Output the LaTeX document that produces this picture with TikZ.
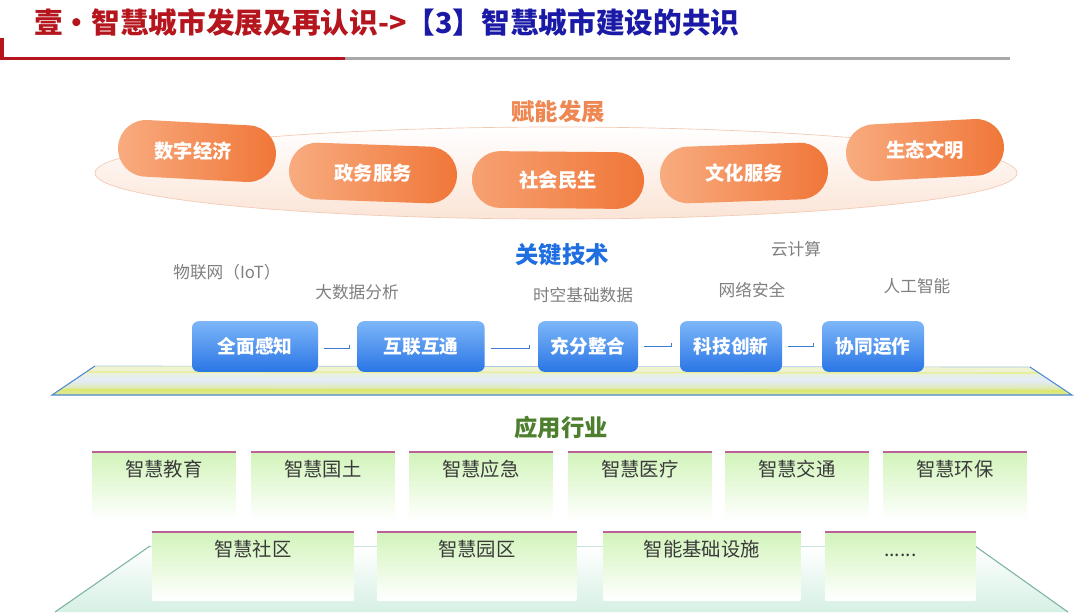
\documentclass[tikz,border=0pt]{standalone}
\usepackage{fontspec}
\setmainfont{Noto Sans CJK SC}
\usetikzlibrary{calc}
\definecolor{tred}{HTML}{B5161E}
\definecolor{tblue}{HTML}{1A1AA6}
\definecolor{lgrey}{HTML}{A8A8A8}
\definecolor{orA}{HTML}{F8AC80}
\definecolor{orB}{HTML}{F07638}
\definecolor{orT}{HTML}{EE8752}
\definecolor{ellB}{HTML}{FBE4D6}
\definecolor{ellD}{HTML}{F2C9B3}
\definecolor{blA}{HTML}{7DB6F8}
\definecolor{blB}{HTML}{2A76E6}
\definecolor{blT}{HTML}{1F6FE0}
\definecolor{grT}{HTML}{4D7F2F}
\definecolor{gtxt}{HTML}{7F7F7F}
\definecolor{gbtxt}{HTML}{3A3A3A}
\definecolor{gbA}{HTML}{D2F4BA}
\definecolor{magline}{HTML}{BE6098}
\definecolor{connc}{HTML}{3C7BD6}
\definecolor{platY}{HTML}{DCE872}
\definecolor{platB}{HTML}{E2ECF8}
\definecolor{platE}{HTML}{4F88D6}
\definecolor{mint}{HTML}{D6F0E4}
\definecolor{mintE}{HTML}{7DB3A4}
\begin{document}
\begin{tikzpicture}[x=0.75pt,y=-0.75pt,
  pill/.style={rectangle, rounded corners=21pt, left color=orA, right color=orB,
    minimum height=42.5pt},
  pilltext/.style={text=white, font=\bfseries\fontsize{14.5}{16}\selectfont},
  bbox/.style={rectangle, rounded corners=5pt, top color=blA, bottom color=blB,
    text=white, font=\bfseries\fontsize{14}{16}\selectfont, minimum height=38pt},
  gbox/.style={rectangle, anchor=north west, top color=gbA, bottom color=white,
    inner ysep=0pt, text height=18.5pt, text depth=32.5pt, text=gbtxt,
    font=\fontsize{14.5}{16}\selectfont},
  gtop/.style={draw=magline, line width=1.3pt},
  sechead/.style={font=\bfseries\fontsize{17.5}{20}\selectfont},
  glabel/.style={text=gtxt, font=\fontsize{12.5}{14}\selectfont},
  conn/.style={draw=connc, line width=0.8pt}
]
\useasboundingbox (0,0) rectangle (1074,612);
\fill[white] (0,0) rectangle (1074,612);

% ---------- header ----------
\fill[tred] (0,38) rectangle (4,60);
\fill[tred] (0,57) rectangle (345,60);
\fill[lgrey] (345,57) rectangle (1010,60);
\node[anchor=west, inner sep=0pt, font=\bfseries\fontsize{21.5}{24}\selectfont] (title) at (34,23)
  {\textcolor{tred}{壹·智慧城市发展及再认识->}\textcolor{tblue}{【3】智慧城市建设的共识}};

% ---------- 赋能发展 ----------
\node[sechead, text=orT] (h1) at (558,112) {赋能发展};
\path[top color=white, bottom color=ellB, draw=ellD, line width=0.5pt]
  (556,173) ellipse [x radius=461, y radius=46];
\node[pill, minimum width=118.5pt, rotate=-3] (p1) at (197,151) {};
\node[pill, minimum width=126pt, rotate=-2] (p2) at (373,173) {};
\node[pill, minimum width=129pt, left color=orA!80!orB, rotate=-0.5] (p3) at (558,180) {};
\node[pill, minimum width=126pt, rotate=2] (p4) at (744,173) {};
\node[pill, minimum width=118.5pt, rotate=3] (p5) at (925,150) {};
\node[pilltext] (p1t) at ([xshift=-3pt]p1.center) {数字经济};
\node[pilltext] (p2t) at (p2.center) {政务服务};
\node[pilltext] (p3t) at (p3.center) {社会民生};
\node[pilltext] (p4t) at (p4.center) {文化服务};
\node[pilltext] (p5t) at (p5.center) {生态文明};

% ---------- 关键技术 ----------
\node[sechead, text=blT] (h2) at (562,255) {关键技术};
\node[glabel] (l1) at (227,272) {物联网（IoT）};
\node[glabel] (l2) at (357,292) {大数据分析};
\node[glabel] (l3) at (583,295) {时空基础数据};
\node[glabel] (l4) at (796,249) {云计算};
\node[glabel] (l5) at (752,290) {网络安全};
\node[glabel] (l6) at (917,286) {人工智能};

% platform
\path[top color=white!60!platY, bottom color=platY, middle color=platB]
  (95,366) -- (1030,367) -- (1072,395) -- (52,395) -- cycle;
\draw[platY!70!white, line width=1.2pt] (86,372) -- (1039,373);
\draw[platY, line width=2.2pt] (60,390) -- (1064,391);
\draw[platE!50!white, line width=0.5pt] (95,366) -- (1030,367);
\draw[platE, line width=0.8pt] (95,366) -- (52,395) -- (1072,395) -- (1030,367);

\node[bbox, minimum width=94.5pt] (b1) at (255,346.5) {全面感知};
\node[bbox, minimum width=95.5pt] (b2) at (421,346.5) {互联互通};
\node[bbox, minimum width=75pt] (b3) at (588,346.5) {充分整合};
\node[bbox, minimum width=76.5pt] (b4) at (731,346.5) {科技创新};
\node[bbox, minimum width=76.5pt] (b5) at (873,346.5) {协同运作};

\draw[conn] ([xshift=4.5pt,yshift=-1.5pt]b1.east) -- ([xshift=-6pt,yshift=-1.5pt]b2.west) -- ++(0,-4);
\draw[conn] ([xshift=4.5pt,yshift=-1.5pt]b2.east) -- ([xshift=-6pt,yshift=-1.5pt]b3.west) -- ++(0,-4);
\draw[conn] ([xshift=4.5pt]b3.east) -- ([xshift=-6pt]b4.west) -- ++(0,-4);
\draw[conn] ([xshift=4.5pt]b4.east) -- ([xshift=-6pt]b5.west) -- ++(0,-4);

% ---------- 应用行业 ----------
\node[sechead, text=grT] (h3) at (561,428) {应用行业};

% bottom trapezoid
\path[top color=white, bottom color=mint] (150,546) -- (975,546) -- (1068,612) -- (55,612) -- cycle;
\draw[mintE!40!white, line width=0.5pt] (150,546) -- (975,546);
\draw[mintE, line width=0.8pt] (150,546) -- (55,612);
\draw[mintE, line width=0.8pt] (975,546) -- (1068,612);

% row 1
\node[gbox, minimum width=107.25pt] (g1) at (92,452) {智慧教育};
\node[gbox, minimum width=107.25pt] (g2) at (251,452) {智慧国土};
\node[gbox, minimum width=107.25pt] (g3) at (409,452) {智慧应急};
\node[gbox, minimum width=107.25pt] (g4) at (568,452) {智慧医疗};
\node[gbox, minimum width=107.25pt] (g5) at (725,452) {智慧交通};
\node[gbox, minimum width=107.25pt] (g6) at (883,452) {智慧环保};
% row 2
\node[gbox, minimum width=150.75pt] (r1) at (152,532) {智慧社区};
\node[gbox, minimum width=149.25pt] (r2) at (377,532) {智慧园区};
\node[gbox, minimum width=147.75pt] (r3) at (603,532) {智能基础设施};
\node[gbox, minimum width=112.5pt] (r4) at (825,532) {......};

\foreach \n in {g1,g2,g3,g4,g5,g6,r1,r2,r3,r4}
  \draw[gtop] (\n.north west) -- (\n.north east);
\end{tikzpicture}
\end{document}
